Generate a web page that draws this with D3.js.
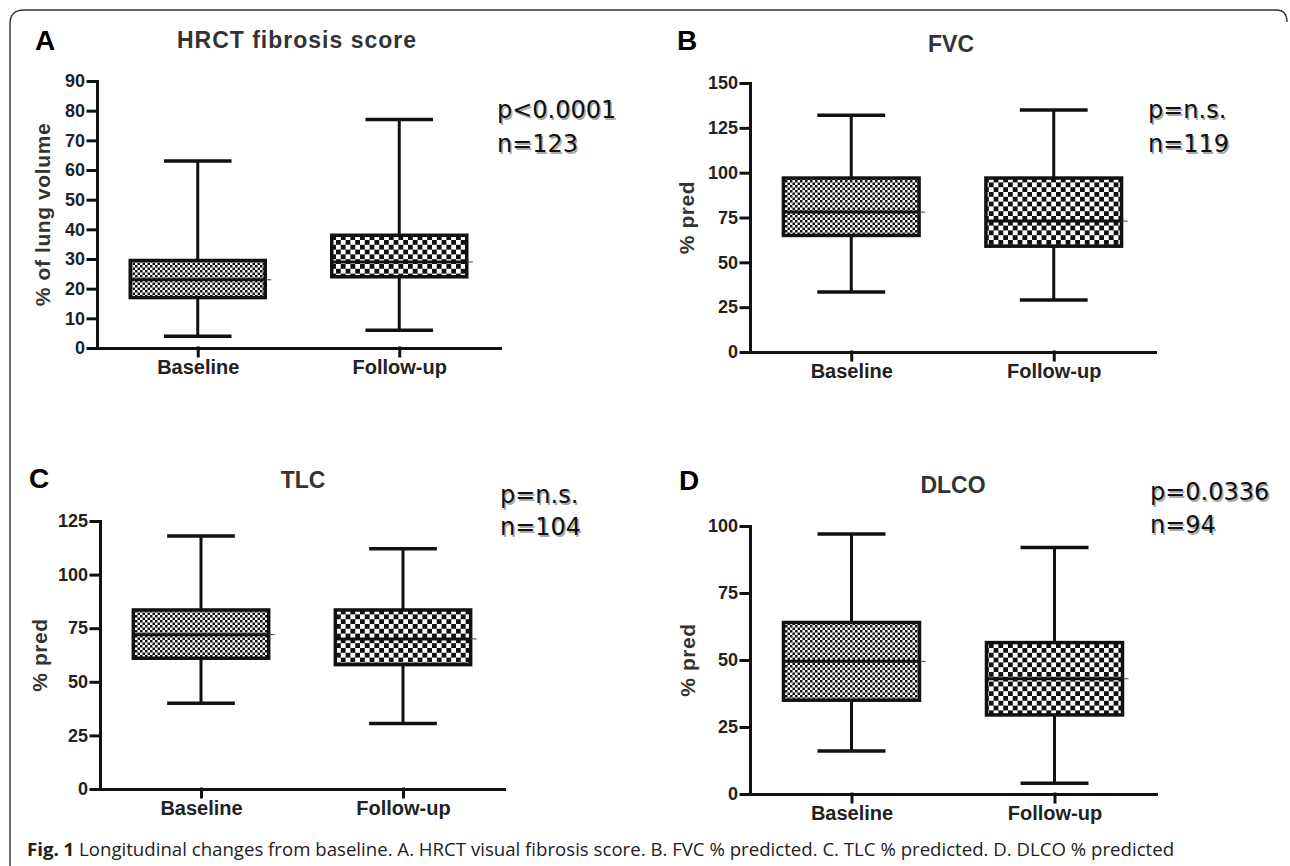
<!DOCTYPE html>
<html>
<head>
<meta charset="utf-8">
<style>
  body { margin: 0; background: #ffffff; }
  svg text { font-family: Arial, "Liberation Sans", sans-serif; }
  .tick text { font-weight: bold; fill: #222; font-family: Arial, "Liberation Sans", sans-serif; }
  .stat { font-family: "DejaVu Sans", Verdana, sans-serif !important; }
</style>
</head>
<body>
<svg width="1290" height="866"></svg>
<script src="https://cdn.jsdelivr.net/npm/d3@7"></script>
<script>

// data
const categories = ["Baseline", "Follow-up"];
const panelLetters = ["A", "B", "C", "D"];
const panelTitles = ["HRCT fibrosis score", "FVC", "TLC", "DLCO"];
const yTitles = ["% of lung volume", "% pred", "% pred", "% pred"];
const pLabels = ["p<0.0001", "p=n.s.", "p=n.s.", "p=0.0336"];
const nLabels = ["n=123", "n=119", "n=104", "n=94"];
const yMaxes = [90, 150, 125, 100];
const yTickSteps = [10, 25, 25, 25];

// [min, q1, median, q3, max] for Baseline, Follow-up
const hrctStats = [[4, 17, 23, 29.5, 63], [6, 24, 29, 38, 77]];
const fvcStats = [[33.5, 65, 78, 97, 132], [29, 59, 73, 97, 135]];
const tlcStats = [[40, 61, 72, 83.5, 118], [30.5, 58, 70, 83.5, 112]];
const dlcoStats = [[16, 35, 49.5, 64, 97], [4, 29.5, 43, 56.5, 92]];
const panelStats = [hrctStats, fvcStats, tlcStats, dlcoStats];

const captionBold = "Fig. 1";
const captionText = " Longitudinal changes from baseline. A. HRCT visual fibrosis score. B. FVC % predicted. C. TLC % predicted. D. DLCO % predicted";

// layout of each panel (page pixels)
let layout = [
  {left: 97, right: 500, top: 81, bottom: 348, letter: [35, 50], title: [297, 48], yTitleX: 50, stat: [497, 118, 152]},
  {left: 750, right: 1155, top: 83, bottom: 352, letter: [677, 50], title: [951, 52], yTitleX: 694, stat: [1148, 118, 152]},
  {left: 100, right: 504, top: 521, bottom: 789, letter: [29, 488], title: [303, 488], yTitleX: 47, stat: [500, 503, 535]},
  {left: 750, right: 1156, top: 526, bottom: 794, letter: [679, 490], title: [953, 493], yTitleX: 695, stat: [1150, 500, 533]}
];

let svg = d3.select("svg");

// checkerboard fills
let defs = svg.append("defs");
function checker(id, cell) {
  let p = defs.append("pattern")
    .attr("id", id)
    .attr("patternUnits", "userSpaceOnUse")
    .attr("width", cell * 2)
    .attr("height", cell * 2);
  p.append("rect").attr("width", cell * 2).attr("height", cell * 2).attr("fill", "#fff");
  p.append("rect").attr("width", cell).attr("height", cell).attr("fill", "#111");
  p.append("rect").attr("x", cell).attr("y", cell).attr("width", cell).attr("height", cell).attr("fill", "#111");
}
checker("fine", 2.5);
checker("coarse", 4.8);
let fills = ["url(#fine)", "url(#coarse)"];

// frame round the figure
svg.append("path")
  .attr("d", "M10,866 L10,24 Q10,10 24,10 L1276,10 Q1287,10 1287,22")
  .attr("fill", "none")
  .attr("stroke", "#333")
  .attr("stroke-width", 1.4);

panelStats.forEach((stats, i) => {
  let L = layout[i];
  let g = svg.append("g");

  let x = d3.scalePoint().domain(categories).range([L.left, L.right]).padding(0.5);
  let y = d3.scaleLinear().domain([0, yMaxes[i]]).range([L.bottom, L.top]);
  let boxW = x.step() * 0.67;

  // y axis
  let yAxis = g.append("g")
    .attr("transform", "translate(" + L.left + ",0)")
    .call(d3.axisLeft(y)
      .tickValues(d3.range(0, yMaxes[i] + 1, yTickSteps[i]))
      .tickSize(9).tickPadding(3).tickSizeOuter(0));
  yAxis.attr("font-family", null);
  yAxis.selectAll("text").style("font-size", "18px");

  // x axis
  let xAxis = g.append("g")
    .attr("transform", "translate(0," + L.bottom + ")")
    .call(d3.axisBottom(x).tickSize(8).tickPadding(4).tickSizeOuter(0));
  xAxis.attr("font-family", null);
  xAxis.selectAll("text").style("font-size", "20px");

  g.selectAll(".domain, .tick line")
    .attr("stroke", "#111")
    .attr("stroke-width", 3)
    .attr("stroke-linecap", "square");

  // boxes
  let bx = g.selectAll(".bx")
    .data(stats)
    .enter()
    .append("g")
    .attr("class", "bx");

  bx.append("line")
    .attr("x1", (d, j) => x(categories[j]))
    .attr("x2", (d, j) => x(categories[j]))
    .attr("y1", d => y(d[0]))
    .attr("y2", d => y(d[4]))
    .attr("stroke", "#111")
    .attr("stroke-width", 3);

  bx.selectAll(".cap")
    .data((d, j) => [d[0], d[4]].map(v => ({v: v, c: categories[j]})))
    .enter()
    .append("line")
    .attr("x1", d => x(d.c) - boxW / 4)
    .attr("x2", d => x(d.c) + boxW / 4)
    .attr("y1", d => y(d.v))
    .attr("y2", d => y(d.v))
    .attr("stroke", "#111")
    .attr("stroke-width", 3.5);

  bx.append("rect")
    .attr("x", (d, j) => x(categories[j]) - boxW / 2)
    .attr("width", boxW)
    .attr("y", d => y(d[3]))
    .attr("height", d => y(d[1]) - y(d[3]))
    .attr("fill", (d, j) => fills[j])
    .attr("stroke", "#111")
    .attr("stroke-width", 3.5);

  // median: thin line slightly past the box, thick inside
  bx.append("line")
    .attr("x1", (d, j) => x(categories[j]) - boxW / 2)
    .attr("x2", (d, j) => x(categories[j]) + boxW / 2 + 6)
    .attr("y1", d => y(d[2]))
    .attr("y2", d => y(d[2]))
    .attr("stroke", "#444")
    .attr("stroke-width", 1);
  bx.append("line")
    .attr("x1", (d, j) => x(categories[j]) - boxW / 2)
    .attr("x2", (d, j) => x(categories[j]) + boxW / 2)
    .attr("y1", d => y(d[2]))
    .attr("y2", d => y(d[2]))
    .attr("stroke", "#111")
    .attr("stroke-width", 3);

  // texts
  g.append("text")
    .attr("x", L.letter[0]).attr("y", L.letter[1])
    .style("font-size", "28px").style("font-weight", "bold")
    .attr("fill", "#000")
    .text(panelLetters[i]);

  g.append("text")
    .attr("x", L.title[0]).attr("y", L.title[1])
    .attr("text-anchor", "middle")
    .style("font-size", "23px").style("font-weight", "bold")
    .style("letter-spacing", i == 0 ? "1px" : "0px")
    .attr("fill", "#333")
    .text(panelTitles[i]);

  g.append("text")
    .attr("transform", "translate(" + L.yTitleX + "," + ((L.top + L.bottom) / 2) + ") rotate(-90)")
    .attr("text-anchor", "middle")
    .style("font-size", "21px").style("font-weight", "bold")
    .style("letter-spacing", "0.6px")
    .attr("fill", "#333")
    .text(yTitles[i]);

  [[pLabels[i], L.stat[1]], [nLabels[i], L.stat[2]]].forEach(s => {
    g.append("text").attr("class", "stat")
      .attr("x", L.stat[0] + 1.5).attr("y", s[1] + 1.5)
      .style("font-size", "24px").attr("fill", "#aaa")
      .text(s[0]);
    g.append("text").attr("class", "stat")
      .attr("x", L.stat[0]).attr("y", s[1])
      .style("font-size", "24px").attr("fill", "#111")
      .text(s[0]);
  });
});

// caption
let cap = svg.append("text")
  .attr("x", 27).attr("y", 856)
  .style("font-family", "'Open Sans', sans-serif")
  .style("font-size", "18px")
  .attr("fill", "#222");
cap.append("tspan").style("font-weight", "bold").text(captionBold);
cap.append("tspan").text(captionText);
let w = cap.node().getComputedTextLength();
cap.style("font-size", (18 * 1148 / w).toFixed(2) + "px");

</script>
</body>
</html>
